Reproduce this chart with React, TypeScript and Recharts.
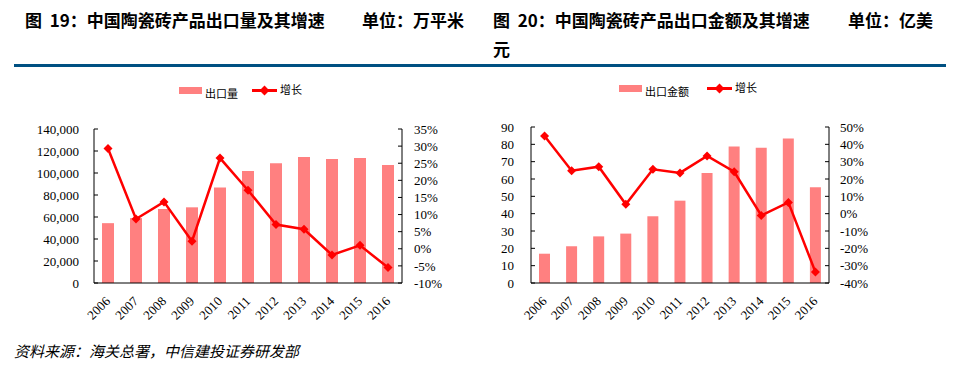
import React from "react";
import { ComposedChart, Bar, Line, XAxis, YAxis } from "recharts";

// categories
const years = ["2006", "2007", "2008", "2009", "2010", "2011", "2012", "2013", "2014", "2015", "2016"];

// 图19 出口量（万平米）及增速（%）
const exportVolume = [54400, 59000, 67300, 68800, 86800, 101800, 108800, 114600, 112800, 113700, 107300];
const volumeGrowth = [29.3, 8.7, 13.7, 2.2, 26.5, 17.1, 7.1, 5.7, -1.8, 1.0, -5.5];

// 图20 出口金额（亿美元）及增速（%）
const exportValue = [16.9, 21.2, 26.9, 28.5, 38.5, 47.5, 63.5, 78.8, 78.1, 83.3, 55.2];
const valueGrowth = [44.8, 24.8, 27.1, 5.4, 25.6, 23.5, 33.3, 24.2, -1.0, 6.5, -33.7];

// tick labels
const volumeTicks = [0, 20000, 40000, 60000, 80000, 100000, 120000, 140000];
const volumeGrowthTicks = [-10, -5, 0, 5, 10, 15, 20, 25, 30, 35];
const valueTicks = [0, 10, 20, 30, 40, 50, 60, 70, 80, 90];
const valueGrowthTicks = [-40, -30, -20, -10, 0, 10, 20, 30, 40, 50];

const BAR = "#FF8080";
const RED = "#FF0000";
const SERIF = "'Liberation Serif', 'Times New Roman', serif";
const CJK = "'Noto Sans CJK SC', 'Noto Sans', sans-serif";
const tickFont = { fontSize: 13, fontFamily: SERIF, fill: "#000" };
const edgeTicks = years.map((_, i) => i).concat(years.length);

const Diamond = (p: any) => {
  const { cx, cy, index } = p;
  if (cx == null || cy == null) return <g key={index} />;
  const r = 4.5;
  return (
    <path
      key={index}
      d={`M${cx},${cy - r}L${cx + r},${cy}L${cx},${cy + r}L${cx - r},${cy}Z`}
      fill={RED}
    />
  );
};

const YearTick = (p: any) => {
  const { x, y, payload } = p;
  const ax = x + 3;
  const ay = y + 18;
  return (
    <text
      x={ax}
      y={ay}
      textAnchor="end"
      transform={`rotate(-45, ${ax}, ${ay})`}
      fontSize={13}
      fontFamily={SERIF}
      fill="#000"
    >
      {payload.value}
    </text>
  );
};

function LegendBox({ barName, bar, line }: { barName: string; bar: number[]; line: number[] }) {
  const txt: React.CSSProperties = {
    position: "absolute",
    fontFamily: CJK,
    fontSize: 11,
    lineHeight: "11px",
    color: "#000",
    whiteSpace: "nowrap",
  };
  return (
    <div style={{ position: "absolute", left: 0, top: 0, width: 470, height: 40 }}>
      <div style={{ position: "absolute", left: bar[0], top: bar[1], width: 23, height: 7, background: BAR }} />
      <div style={{ ...txt, left: bar[0] + 26, top: bar[1] + 1 }}>{barName}</div>
      <div style={{ position: "absolute", left: line[0], top: line[1] - 1.5, width: 25, height: 3, background: RED }} />
      <div
        style={{
          position: "absolute",
          left: line[0] + 9,
          top: line[1] - 3.5,
          width: 7,
          height: 7,
          background: RED,
          transform: "rotate(45deg)",
        }}
      />
      <div style={{ ...txt, left: line[0] + 28, top: line[1] - 6 }}>增长</div>
    </div>
  );
}

function Panel(props: {
  bars: number[];
  growth: number[];
  barName: string;
  leftTicks: number[];
  rightTicks: number[];
  leftFmt: (v: number) => string;
  margin: { top: number; right: number; left: number; bottom: number };
  leftWidth: number;
  leftMargin: number;
  rightMargin: number;
  barSize: number;
  legendBar: number[];
  legendLine: number[];
}) {
  const data = years.map((y, i) => ({ year: y, bar: props.bars[i], growth: props.growth[i] }));
  const lt = props.leftTicks;
  const rt = props.rightTicks;
  return (
    <div style={{ position: "relative", width: 470, height: 270 }}>
      <LegendBox barName={props.barName} bar={props.legendBar} line={props.legendLine} />
      <ComposedChart width={470} height={270} data={data} margin={props.margin}>
        <XAxis
          xAxisId="axB"
          dataKey="year"
          height={56}
          axisLine={false}
          tickLine={false}
          tickSize={0}
          tickMargin={0}
          interval={0}
          tick={<YearTick />}
        />
        <XAxis
          xAxisId="axA"
          type="number"
          domain={[0, years.length]}
          ticks={edgeTicks}
          allowDataOverflow
          height={1}
          tick={false}
          tickSize={-4}
          stroke="#000"
          axisLine={{ stroke: "#000", strokeWidth: 1 }}
          tickLine={{ stroke: "#000" }}
        />
        <YAxis
          yAxisId="left"
          width={props.leftWidth}
          domain={[lt[0], lt[lt.length - 1]]}
          ticks={lt}
          interval={0}
          tickSize={-4}
          tickMargin={props.leftMargin}
          tickFormatter={props.leftFmt}
          tick={tickFont}
          stroke="#000"
          axisLine={{ stroke: "#000" }}
          tickLine={{ stroke: "#000" }}
        />
        <YAxis
          yAxisId="right"
          orientation="right"
          width={60}
          domain={[rt[0], rt[rt.length - 1]]}
          ticks={rt}
          interval={0}
          tickSize={-4}
          tickMargin={props.rightMargin}
          tickFormatter={(v: number) => `${v}%`}
          tick={{ ...tickFont, textAnchor: "start" }}
          stroke="#000"
          axisLine={{ stroke: "#000" }}
          tickLine={{ stroke: "#000" }}
        />
        <Bar
          xAxisId="axB"
          yAxisId="left"
          dataKey="bar"
          name={props.barName}
          fill={BAR}
          barSize={props.barSize}
          isAnimationActive={false}
        />
        <Line
          xAxisId="axB"
          yAxisId="right"
          dataKey="growth"
          name="增长"
          stroke={RED}
          strokeWidth={2.5}
          dot={Diamond}
          activeDot={false}
          isAnimationActive={false}
        />
      </ComposedChart>
    </div>
  );
}

const titleStyle: React.CSSProperties = {
  position: "absolute",
  fontFamily: CJK,
  fontWeight: 700,
  fontSize: 17,
  lineHeight: "17px",
  color: "#000",
  whiteSpace: "nowrap",
};

export default function App() {
  return (
    <div
      style={{
        position: "absolute",
        left: 0,
        top: 0,
        width: 956,
        height: 366,
        background: "#fff",
        overflow: "hidden",
      }}
    >
      <div style={{ ...titleStyle, left: 25, top: 11 }}>图&nbsp; 19：中国陶瓷砖产品出口量及其增速</div>
      <div style={{ ...titleStyle, left: 362, top: 11 }}>单位：万平米</div>
      <div style={{ ...titleStyle, left: 493, top: 11 }}>图&nbsp; 20：中国陶瓷砖产品出口金额及其增速</div>
      <div style={{ ...titleStyle, left: 848, top: 11 }}>单位：亿美</div>
      <div style={{ ...titleStyle, left: 493, top: 40 }}>元</div>
      <div style={{ position: "absolute", left: 14, top: 64, width: 932, height: 3, background: "#005082" }} />

      <div style={{ position: "absolute", left: 0, top: 70 }}>
        <Panel
          bars={exportVolume}
          growth={volumeGrowth}
          barName="出口量"
          leftTicks={volumeTicks}
          rightTicks={volumeGrowthTicks}
          leftFmt={(v: number) => v.toLocaleString("en-US")}
          margin={{ top: 59, right: 8, left: 0, bottom: 0 }}
          leftWidth={94}
          leftMargin={19}
          rightMargin={16}
          barSize={12}
          legendBar={[179, 17]}
          legendLine={[252, 20]}
        />
      </div>

      <div style={{ position: "absolute", left: 440, top: 70 }}>
        <Panel
          bars={exportValue}
          growth={valueGrowth}
          barName="出口金额"
          leftTicks={valueTicks}
          rightTicks={valueGrowthTicks}
          leftFmt={(v: number) => String(v)}
          margin={{ top: 57, right: 21, left: 0, bottom: 0 }}
          leftWidth={91}
          leftMargin={21}
          rightMargin={15}
          barSize={11}
          legendBar={[179, 15]}
          legendLine={[267, 18]}
        />
      </div>

      <div
        style={{
          position: "absolute",
          left: 14,
          top: 342,
          fontFamily: CJK,
          fontStyle: "italic",
          fontSize: 15,
          lineHeight: "17px",
          color: "#000",
          whiteSpace: "nowrap",
        }}
      >
        资料来源：海关总署，中信建投证券研发部
      </div>
    </div>
  );
}
